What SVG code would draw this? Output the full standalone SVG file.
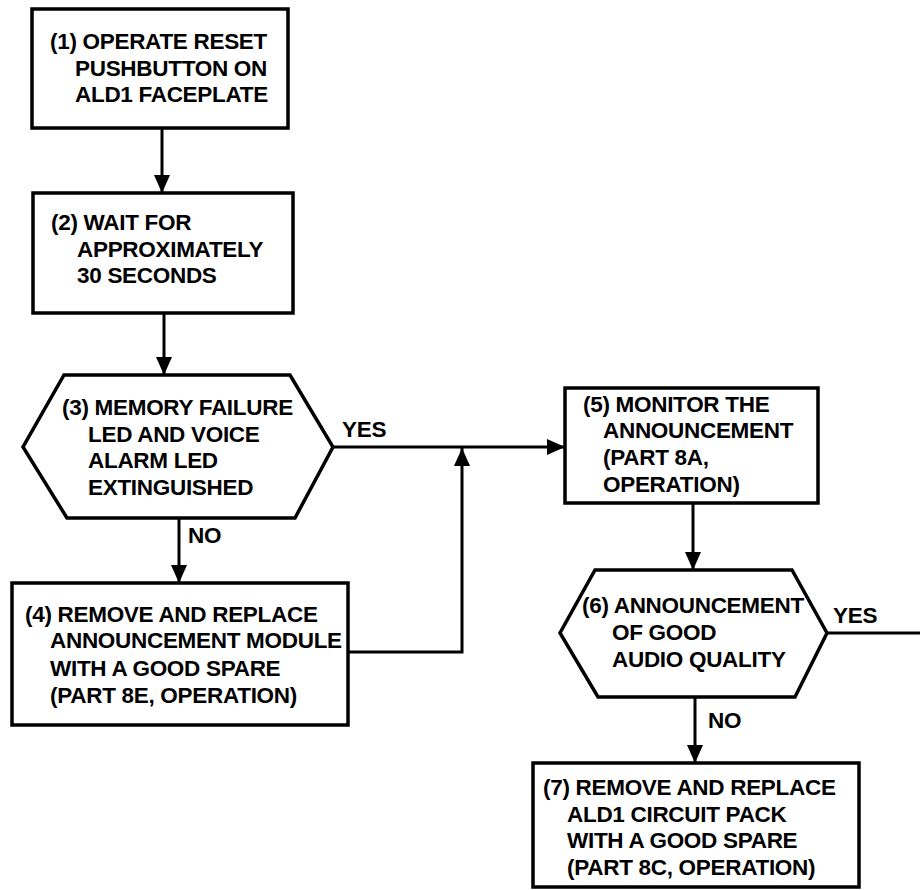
<svg xmlns="http://www.w3.org/2000/svg" width="920" height="890" viewBox="0 0 920 890">
<style>
.shape{fill:#fff;stroke:#000;stroke-width:3.5;stroke-linejoin:miter}
.t{font-family:"Liberation Sans",Arial,sans-serif;font-weight:bold;font-size:22.5px;letter-spacing:-0.3px;fill:#000}
.c{fill:none;stroke:#000;stroke-width:3}
</style>
<defs>
<marker id="ah" markerUnits="userSpaceOnUse" markerWidth="20" markerHeight="18" refX="18" refY="8" orient="auto">
<path d="M0,0 L18,8 L0,16 Z" fill="#000"/>
</marker>
</defs>
<rect width="920" height="890" fill="#fff"/>
<g id="connectors">
<line class="c" x1="162" y1="128" x2="162" y2="193" marker-end="url(#ah)"/>
<line class="c" x1="164" y1="313" x2="164" y2="375" marker-end="url(#ah)"/>
<line class="c" x1="333" y1="447" x2="565" y2="447" marker-end="url(#ah)"/>
<line class="c" x1="179" y1="518" x2="179" y2="583" marker-end="url(#ah)"/>
<polyline class="c" points="348,652 462,652 462,448" marker-end="url(#ah)"/>
<line class="c" x1="693" y1="503" x2="693" y2="570" marker-end="url(#ah)"/>
<line class="c" x1="827" y1="633" x2="920" y2="633"/>
<line class="c" x1="695" y1="697" x2="695" y2="763" marker-end="url(#ah)"/>
<text class="t" x="342" y="437">YES</text>
<text class="t" x="188" y="543">NO</text>
<text class="t" x="833" y="623">YES</text>
<text class="t" x="708" y="728">NO</text>
</g>
<g id="n1">
<rect class="shape" x="32" y="9" width="256" height="119"/>
<text class="t" x="50" y="49">(1) OPERATE RESET</text>
<text class="t" x="75" y="76">PUSHBUTTON ON</text>
<text class="t" x="75" y="102">ALD1 FACEPLATE</text>
</g>
<g id="n2">
<rect class="shape" x="33" y="193" width="260" height="120"/>
<text class="t" x="51" y="230">(2) WAIT FOR</text>
<text class="t" x="77" y="257">APPROXIMATELY</text>
<text class="t" x="77" y="283">30 SECONDS</text>
</g>
<g id="n3">
<polygon class="shape" points="64,375 290,375 333,447 295,518 67,518 23,447"/>
<text class="t" x="62" y="415">(3) MEMORY FAILURE</text>
<text class="t" x="88" y="442">LED AND VOICE</text>
<text class="t" x="88" y="468">ALARM LED</text>
<text class="t" x="88" y="495">EXTINGUISHED</text>
</g>
<g id="n4">
<rect class="shape" x="12" y="583" width="336" height="142"/>
<text class="t" x="25" y="622">(4) REMOVE AND REPLACE</text>
<text class="t" x="50" y="648">ANNOUNCEMENT MODULE</text>
<text class="t" x="50" y="676">WITH A GOOD SPARE</text>
<text class="t" x="50" y="703">(PART 8E, OPERATION)</text>
</g>
<g id="n5">
<rect class="shape" x="565" y="388" width="253" height="115"/>
<text class="t" x="583" y="412">(5) MONITOR THE</text>
<text class="t" x="603" y="438">ANNOUNCEMENT</text>
<text class="t" x="603" y="465">(PART 8A,</text>
<text class="t" x="603" y="492">OPERATION)</text>
</g>
<g id="n6">
<polygon class="shape" points="595,570 792,570 827,633 795,697 598,697 560,633"/>
<text class="t" x="582" y="613">(6) ANNOUNCEMENT</text>
<text class="t" x="612" y="640">OF GOOD</text>
<text class="t" x="612" y="667">AUDIO QUALITY</text>
</g>
<g id="n7">
<rect class="shape" x="533" y="763" width="326" height="124"/>
<text class="t" x="543" y="795">(7) REMOVE AND REPLACE</text>
<text class="t" x="567" y="822">ALD1 CIRCUIT PACK</text>
<text class="t" x="567" y="848">WITH A GOOD SPARE</text>
<text class="t" x="567" y="875">(PART 8C, OPERATION)</text>
</g>
</svg>
